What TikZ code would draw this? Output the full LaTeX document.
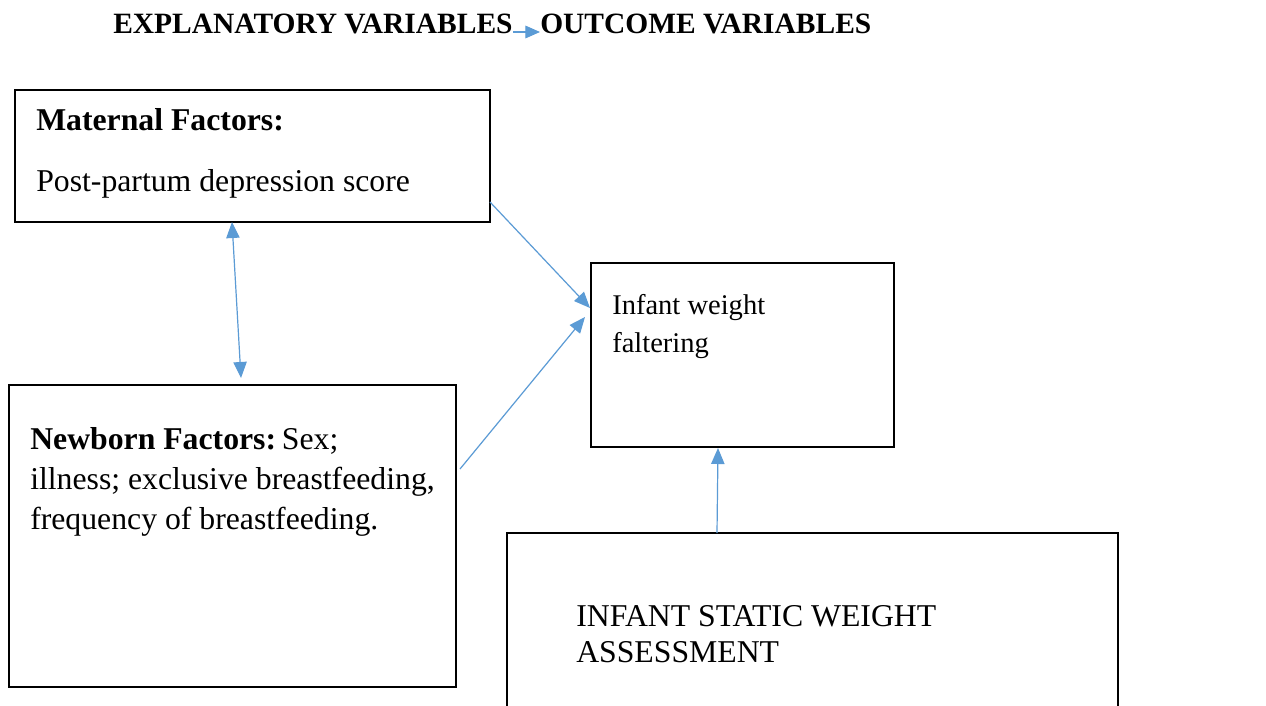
\documentclass[tikz,border=0pt]{standalone}
\usepackage{fontspec}
\setmainfont{Liberation Serif}
\usetikzlibrary{arrows.meta,fit}
\definecolor{arrowblue}{HTML}{5B9BD5}
\tikzset{
  box/.style={draw=black, line width=1pt, inner sep=0pt, fill=none},
  txt/.style={anchor=base west, inner sep=0pt, font=\fontsize{23.8}{28}\selectfont},
  small/.style={anchor=base west, inner sep=0pt, font=\fontsize{21.4}{26}\selectfont},
  ttl/.style={anchor=base west, inner sep=0pt, font=\fontsize{22.1}{26}\selectfont\bfseries},
  conn/.style={draw=arrowblue, line width=0.9pt, -{Triangle[length=12pt,width=10pt]}},
  dconn/.style={draw=arrowblue, line width=0.9pt, {Triangle[length=12pt,width=10pt]}-{Triangle[length=12pt,width=10pt]}},
  tconn/.style={draw=arrowblue, line width=0.9pt, -{Triangle[length=11pt,width=9.5pt]}}
}
\begin{document}
\begin{tikzpicture}[x=0.75pt,y=-0.75pt]
\useasboundingbox (0,0) rectangle (1266,706);
\clip (0,0) rectangle (1266,706);
\fill[white] (0,0) rectangle (1266,706);

% title
\node[ttl] (t1) at (113,34) {EXPLANATORY VARIABLES};
\node[ttl] (t2) at (540,34) {OUTCOME VARIABLES};
\coordinate (ta) at (513,32);
\coordinate (tb) at (540,32);
\draw[tconn] (ta) -- (tb);

% boxes
\node[box, fit={(15,90) (490,222)}] (mat) {};
\node[box, fit={(9,385) (456,687)}] (new) {};
\node[box, fit={(591,263) (894,447)}] (inf) {};
\node[box, fit={(507,533) (1118,760)}] (sta) {};

% texts
\node[txt] (m1) at (36,131) {\bfseries Maternal Factors:};
\node[txt] (m2) at (36,191) {Post-partum depression score};

\node[small] (i1) at (612,314) {Infant weight};
\node[small] (i2) at (612,352) {faltering};

\node[txt] (n1) at (30,449) {\textbf{Newborn Factors:}\hspace{-0.15em} Sex;};
\node[txt] (n2) at (30,489) {illness; exclusive breastfeeding,};
\node[txt] (n3) at (30,529) {frequency of breastfeeding.};

\node[txt] (s1) at (576,626) {INFANT STATIC WEIGHT};
\node[txt] (s2) at (576,662) {ASSESSMENT};

% connectors
\coordinate (d1) at (232,222);
\coordinate (d2) at (241,378);
\draw[dconn] (d1) -- (d2);

\coordinate (ma) at (490,202);
\coordinate (mb) at (590,308);
\draw[conn] (ma) -- (mb);

\coordinate (na) at (460,469);
\coordinate (nb) at (585,317);
\draw[conn] (na) -- (nb);

\coordinate (sa) at (717,533);
\coordinate (sb) at (718,448);
\draw[conn] (sa) -- (sb);
\end{tikzpicture}
\end{document}
